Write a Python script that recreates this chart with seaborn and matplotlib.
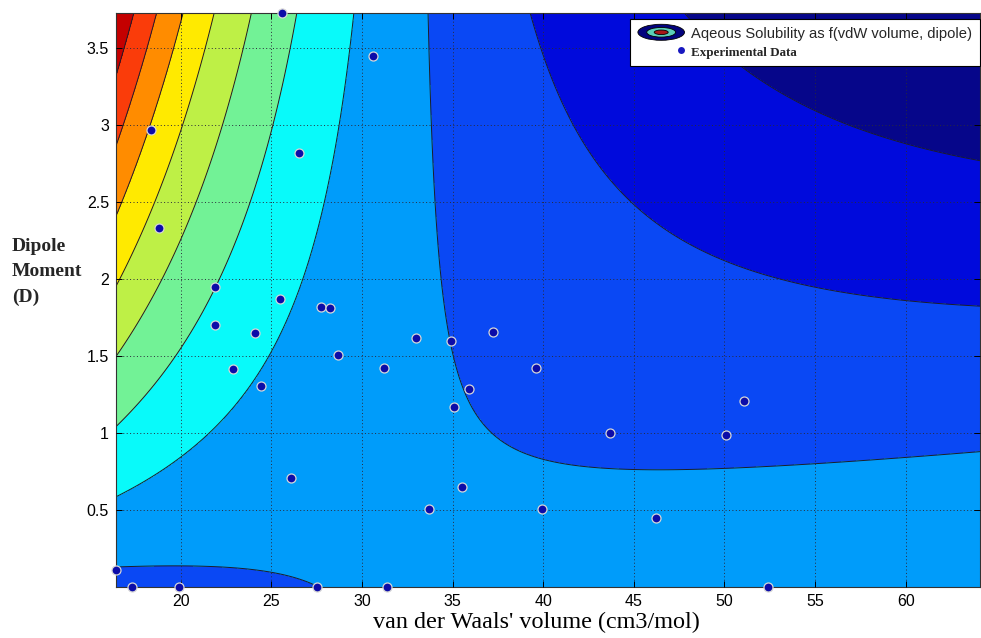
import numpy as np
import matplotlib
matplotlib.use("Agg")
import matplotlib.pyplot as plt
import seaborn as sns
import pandas as pd
from matplotlib.patches import Ellipse, Patch
from matplotlib.legend_handler import HandlerBase
from matplotlib.lines import Line2D

vdw_volume = [25.6, 30.6, 18.35, 26.5, 18.8, 21.9, 25.45, 27.75, 28.25, 21.9,
              24.1, 28.65, 22.9, 24.4, 26.1, 16.42, 17.3, 19.9, 27.5, 33.0,
              34.9, 37.25, 31.2, 39.6, 35.9, 35.05, 43.7, 50.1, 35.5, 33.7,
              39.95, 46.2, 31.4, 51.1, 52.4]
dipole_moment = [3.73, 3.45, 2.97, 2.82, 2.33, 1.95, 1.87, 1.82, 1.81, 1.70,
                 1.65, 1.51, 1.415, 1.305, 0.71, 0.11, 0.0, 0.0, 0.0, 1.62,
                 1.60, 1.66, 1.42, 1.42, 1.285, 1.17, 1.0, 0.985, 0.65, 0.505,
                 0.505, 0.45, 0.0, 1.21, 0.0]

# ---- fitted solubility surface: S = c0 + c1*V + mu*(c2/(V + c3) - c4) ----
surface_coef = [2.296, 0.0255, 72.3, 0.1, 2.184]
contour_levels = [1, 2, 3, 4, 5, 6, 7, 8, 9, 10]
level_floor, level_ceiling = -5, 20
volume_range = [16.42, 64.1]
dipole_range = [0.0, 3.73]
x_ticks = [20, 25, 30, 35, 40, 45, 50, 55, 60]
y_ticks = [0.5, 1, 1.5, 2, 2.5, 3, 3.5]

band_colors = ['#06068A', '#000ADC', '#0A48F4', '#009CFA', '#08FAFA',
               '#72F296', '#BEF046', '#FFEA00', '#FF8C00', '#FA3C0A', '#C40000']

sns.set_theme(style="ticks")
plt.rcParams['font.family'] = ['Liberation Sans', 'DejaVu Sans']

fig = plt.figure(figsize=(9.81, 6.38), dpi=100)
ax = fig.add_axes([116 / 981, 51 / 638, 864 / 981, 574 / 638])

V = np.linspace(volume_range[0], volume_range[1], 500)
M = np.linspace(dipole_range[0], dipole_range[1], 500)
VV, MM = np.meshgrid(V, M)
c0, c1, c2, c3, c4 = surface_coef
S = c0 + c1 * VV + MM * (c2 / (VV + c3) - c4)

ax.contourf(VV, MM, S, levels=[level_floor] + contour_levels + [level_ceiling],
            colors=band_colors, zorder=1)
ax.contour(VV, MM, S, levels=contour_levels, colors='#1c1c2a', linewidths=0.7, zorder=2)

df = pd.DataFrame({"vdw": vdw_volume, "dipole": dipole_moment})
sns.scatterplot(data=df, x="vdw", y="dipole", ax=ax, s=42, color='#0C0CA8',
                edgecolor='#D6D6D6', linewidth=0.9, zorder=5, clip_on=False, legend=False)

ax.set_xlim(volume_range)
ax.set_ylim(dipole_range)
ax.set_xticks(x_ticks)
ax.set_yticks(y_ticks)
ax.set_yticklabels([f"{t:g}" for t in y_ticks])
ax.set_axisbelow(False)
ax.grid(True, linestyle=(0, (1, 2.5)), color='#2a2a3a', linewidth=0.7)
ax.tick_params(direction='in', top=True, right=True, length=4, width=0.7,
               labelsize=11.5, pad=5, colors='black')
for sp in ax.spines.values():
    sp.set_color('#333333')
    sp.set_linewidth(0.8)

ax.set_xlabel("van der Waals' volume (cm3/mol)", fontfamily='Liberation Serif',
              fontsize=17.4, labelpad=2, color='black')
ax.xaxis.label.set_x(0.4867)
ax.set_ylabel("")
fig.text(12 / 981, 1 - 272 / 638, "Dipole\nMoment\n(D)", fontfamily='Liberation Serif',
         fontweight='bold', fontsize=14, ha='left', va='center', linespacing=1.6)


class ContourHandle(HandlerBase):
    def create_artists(self, legend, orig_handle, xdescent, ydescent, width, height,
                       fontsize, trans):
        cx = width / 2 - xdescent
        cy = height / 2 - ydescent
        arts = []
        for w, h, col in [(1.0, 1.5, '#03037E'), (0.62, 0.9, '#5CCFB8'), (0.3, 0.42, '#A81818')]:
            arts.append(Ellipse((cx, cy), width * w, height * h, facecolor=col,
                                edgecolor='black', lw=0.6, transform=trans))
        return arts


class DotHandle(HandlerBase):
    def create_artists(self, legend, orig_handle, xdescent, ydescent, width, height,
                       fontsize, trans):
        cx = width * 0.92 - xdescent
        cy = height / 2 - ydescent
        ln = Line2D([cx], [cy], marker='o', ls='', color='#1818C0', markersize=5,
                    markeredgewidth=0, transform=trans)
        return [ln]


contour_proxy = Patch()
data_proxy = Patch()
leg = ax.legend([contour_proxy, data_proxy],
                ["Aqeous Solubility as f(vdW volume, dipole)", "Experimental Data"],
                handler_map={contour_proxy: ContourHandle(), data_proxy: DotHandle()},
                loc='upper right', bbox_to_anchor=(1.0, 1 - 6 / 574), borderaxespad=0,
                fontsize=11, frameon=True, fancybox=False, handlelength=3.05,
                handletextpad=0.45, labelspacing=0.28, borderpad=0.5)
leg.get_frame().set_edgecolor('black')
leg.get_frame().set_linewidth(0.8)
leg.get_frame().set_facecolor('white')
leg.get_frame().set_alpha(1)
leg.set_zorder(10)
t1, t2 = leg.get_texts()
t1.set_fontfamily('Liberation Sans')
t1.set_fontsize(10.6)
t2.set_fontfamily('Liberation Serif')
t2.set_fontweight('bold')
t2.set_fontsize(9.4)

fig.savefig("out.png", dpi=100)
